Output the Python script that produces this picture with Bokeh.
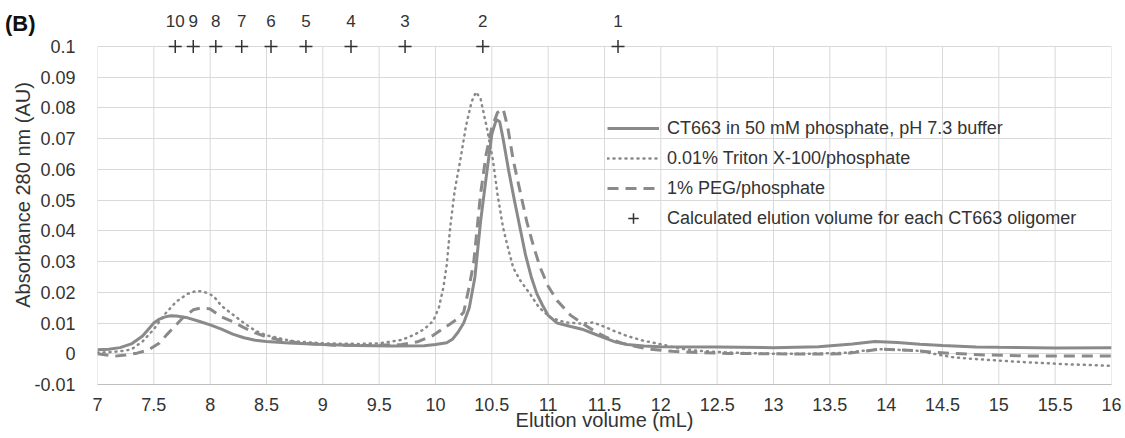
from bokeh.plotting import figure
from bokeh.models import FixedTicker, Legend, LegendItem, Range1d, LinearAxis
from bokeh.embed import file_html
from bokeh.resources import INLINE
from bokeh.core.properties import value

# ---------------- data ----------------
vol_buffer = [7.0, 7.1, 7.2, 7.3, 7.4, 7.5, 7.55, 7.6, 7.65, 7.7, 7.8, 7.9, 8.0, 8.1, 8.2, 8.3,
              8.4, 8.5, 8.7, 9.0, 9.3, 9.6, 9.9, 10.0, 10.1, 10.15, 10.2, 10.25, 10.3, 10.35,
              10.4, 10.45, 10.5, 10.54, 10.57, 10.6, 10.65, 10.7, 10.75, 10.8, 10.85, 10.9,
              10.95, 11.0, 11.08, 11.2, 11.3, 11.4, 11.5, 11.6, 11.7, 11.85, 12.0, 12.5, 13.0,
              13.4, 13.7, 13.9, 14.1, 14.3, 14.5, 14.8, 15.0, 15.5, 16.0]
abs_buffer = [0.0013, 0.0015, 0.0020, 0.0032, 0.0058, 0.0100, 0.0113, 0.0120, 0.0124, 0.0123,
              0.0117, 0.0106, 0.0094, 0.0080, 0.0064, 0.0052, 0.0044, 0.0040, 0.0035, 0.0030,
              0.0027, 0.0025, 0.0026, 0.0030, 0.0036, 0.0047, 0.0070, 0.0100, 0.0150, 0.0250,
              0.0430, 0.0575, 0.0715, 0.0762, 0.0755, 0.0700, 0.0595, 0.0500, 0.0410, 0.0320,
              0.0250, 0.0195, 0.0158, 0.0125, 0.0100, 0.0089, 0.0080, 0.0066, 0.0052, 0.0038,
              0.0030, 0.0025, 0.0023, 0.0022, 0.0020, 0.0023, 0.0032, 0.0040, 0.0037, 0.0031,
              0.0027, 0.0022, 0.0021, 0.0019, 0.0020]

vol_triton = [7.0, 7.1, 7.2, 7.3, 7.4, 7.5, 7.6, 7.7, 7.8, 7.88, 7.95, 8.03, 8.1, 8.2, 8.3, 8.4,
              8.5, 8.6, 8.7, 8.8, 9.0, 9.3, 9.5, 9.7, 9.8, 9.9, 9.98, 10.03, 10.07, 10.1, 10.13,
              10.17, 10.22, 10.27, 10.32, 10.36, 10.4, 10.455, 10.51, 10.55, 10.6, 10.65, 10.69,
              10.75, 10.84, 10.92, 11.02, 11.15, 11.3, 11.4, 11.5, 11.58, 11.7, 11.85, 12.0,
              12.15, 12.32, 12.6, 13.0, 13.3, 13.63, 13.8, 13.95, 14.1, 14.28, 14.45, 14.6, 14.9,
              15.26, 15.6, 16.0]
abs_triton = [0.0004, 0.0005, 0.0008, 0.0014, 0.0040, 0.0080, 0.0130, 0.0170, 0.0195, 0.0205,
              0.0201, 0.0188, 0.0156, 0.0128, 0.0100, 0.0075, 0.0060, 0.0052, 0.0043, 0.0039,
              0.0034, 0.0032, 0.0034, 0.0045, 0.0060, 0.0080, 0.0107, 0.0150, 0.0216, 0.0290,
              0.0410, 0.0530, 0.0630, 0.0740, 0.0820, 0.0852, 0.0830, 0.0737, 0.0630, 0.0520,
              0.0410, 0.0335, 0.0280, 0.0240, 0.0194, 0.0150, 0.0118, 0.0102, 0.0098, 0.0102,
              0.0088, 0.0075, 0.0058, 0.0042, 0.0031, 0.0018, 0.0010, 0.0004, 0.0000, 0.0000,
              0.0003, 0.0010, 0.0015, 0.0013, 0.0010, -0.0002, -0.0012, -0.0020, -0.0028,
              -0.0034, -0.0039]

vol_peg = [7.0, 7.08, 7.15, 7.25, 7.35, 7.45, 7.55, 7.62, 7.7, 7.76, 7.85, 7.93, 8.0, 8.1, 8.2,
           8.3, 8.4, 8.5, 8.65, 8.8, 9.1, 9.4, 9.7, 9.85, 9.98, 10.08, 10.13, 10.2, 10.25, 10.3,
           10.34, 10.4, 10.45, 10.5, 10.55, 10.6, 10.64, 10.69, 10.75, 10.81, 10.87, 10.93, 11.0,
           11.08, 11.2, 11.31, 11.42, 11.52, 11.65, 11.8, 11.9, 12.1, 12.32, 12.6, 13.0, 13.3,
           13.63, 13.8, 13.95, 14.1, 14.28, 14.45, 14.6, 14.9, 15.26, 16.0]
abs_peg = [0.0000, -0.0004, -0.0008, -0.0004, 0.0002, 0.0012, 0.0035, 0.0064, 0.0095, 0.0118,
           0.0143, 0.0150, 0.0146, 0.0120, 0.0105, 0.0085, 0.0068, 0.0055, 0.0042, 0.0035,
           0.0028, 0.0027, 0.0030, 0.0040, 0.0060, 0.0085, 0.0097, 0.0115, 0.0135, 0.0220,
           0.0300, 0.0520, 0.0650, 0.0735, 0.0785, 0.0797, 0.0740, 0.0630, 0.0530, 0.0430,
           0.0350, 0.0280, 0.0220, 0.0173, 0.0125, 0.0097, 0.0072, 0.0053, 0.0035, 0.0022,
           0.0015, 0.0008, 0.0004, 0.0001, 0.0000, -0.0001, 0.0000, 0.0008, 0.0015, 0.0013,
           0.0010, 0.0004, 0.0001, -0.0004, -0.0007, -0.0007]

oligomer_labels = ["10", "9", "8", "7", "6", "5", "4", "3", "2", "1"]
oligomer_vol = [7.69, 7.85, 8.05, 8.28, 8.54, 8.85, 9.25, 9.73, 10.42, 11.62]
oligomer_abs = [0.1] * 10

x_ticks = [7, 7.5, 8, 8.5, 9, 9.5, 10, 10.5, 11, 11.5, 12, 12.5, 13, 13.5, 14, 14.5, 15, 15.5, 16]
x_tick_labels = ["7", "7.5", "8", "8.5", "9", "9.5", "10", "10.5", "11", "11.5", "12", "12.5",
                 "13", "13.5", "14", "14.5", "15", "15.5", "16"]
y_ticks = [-0.01, 0, 0.01, 0.02, 0.03, 0.04, 0.05, 0.06, 0.07, 0.08, 0.09, 0.1]
y_tick_labels = ["-0.01", "0", "0.01", "0.02", "0.03", "0.04", "0.05", "0.06", "0.07", "0.08",
                 "0.09", "0.1"]

legend_labels = ["CT663 in 50 mM phosphate, pH 7.3 buffer",
                 "0.01% Triton X-100/phosphate",
                 "1% PEG/phosphate",
                 "Calculated elution volume for each CT663 oligomer"]
panel_tag = "(B)"

# ---------------- style ----------------
FONT = "Liberation Sans"
TXT = "#333333"
CURVE = "#8a8a8a"
GRID = "#d9d9d9"

p = figure(width=1125, height=438, output_backend="svg", toolbar_location=None,
           x_range=Range1d(7, 16), y_range=Range1d(-0.01, 0.11334),
           min_border_left=97, min_border_right=14, min_border_top=5, min_border_bottom=54)
p.outline_line_color = None
p.background_fill_color = "white"
p.border_fill_color = "white"

# grid: horizontal via ygrid, vertical as segments limited to the y tick extent
p.xgrid.visible = False
p.ygrid.ticker = FixedTicker(ticks=y_ticks)
p.ygrid.grid_line_color = GRID
p.ygrid.grid_line_width = 1
y_lo, y_hi = min(y_ticks), max(y_ticks)
p.segment(x0=x_ticks, y0=[y_lo] * len(x_ticks), x1=x_ticks, y1=[y_hi] * len(x_ticks),
          line_color=GRID, line_width=1, level="underlay")

# axes
xa = p.xaxis[0]
xa.ticker = FixedTicker(ticks=x_ticks)
xa.major_label_overrides = dict(zip(x_ticks, x_tick_labels))
xa.axis_label = "Elution volume (mL)"
ya = p.yaxis[0]
ya.ticker = FixedTicker(ticks=y_ticks)
ya.major_label_overrides = dict(zip(y_ticks, y_tick_labels))
ya.axis_label = "Absorbance 280 nm (AU)"
for ax in (xa, ya):
    ax.major_tick_line_color = None
    ax.minor_tick_line_color = None
    ax.major_label_text_font = FONT
    ax.major_label_text_font_size = "18px"
    ax.major_label_text_color = TXT
    ax.axis_label_text_font = FONT
    ax.axis_label_text_font_size = "20px"
    ax.axis_label_text_font_style = "normal"
    ax.axis_label_text_color = TXT
xa.axis_line_color = "#bfbfbf"
ya.axis_line_color = None
xa.major_label_standoff = 7
xa.axis_label_standoff = -5
ya.major_label_standoff = 16
ya.axis_label_standoff = -3

# panel tag "(B)" as the single tick label of an outer left axis
tag_y = 0.1075
tag_axis = LinearAxis(ticker=FixedTicker(ticks=[tag_y]),
                      major_label_overrides={tag_y: panel_tag},
                      axis_line_color=None, major_tick_line_color=None,
                      minor_tick_line_color=None, major_label_standoff=-32,
                      major_label_text_font=FONT, major_label_text_font_size="22px",
                      major_label_text_font_style="bold", major_label_text_color="#111111")
p.add_layout(tag_axis, "left")

# curves
r_buf = p.line(vol_buffer, abs_buffer, line_color=CURVE, line_width=3)
r_tri = p.line(vol_triton, abs_triton, line_color=CURVE, line_width=2.5,
               line_dash="1 5", line_cap="round")
r_peg = p.line(vol_peg, abs_peg, line_color=CURVE, line_width=3, line_dash="11 7")

# oligomer markers
r_olig = p.scatter(oligomer_vol, oligomer_abs, marker="cross", size=13,
                   line_color=TXT, line_width=1.5)
p.text(x=oligomer_vol, y=oligomer_abs, text=oligomer_labels, text_font=value(FONT),
       text_font_size="17px", text_color=TXT, text_align="center",
       text_baseline="middle", y_offset=-25)

# legend
legend = Legend(items=[LegendItem(label=legend_labels[0], renderers=[r_buf]),
                       LegendItem(label=legend_labels[1], renderers=[r_tri]),
                       LegendItem(label=legend_labels[2], renderers=[r_peg]),
                       LegendItem(label=legend_labels[3], renderers=[r_olig])],
                location=(510, 153), orientation="vertical")
legend.label_text_font = FONT
legend.label_text_font_size = "18px"
legend.label_text_color = TXT
legend.glyph_width = 52
legend.glyph_height = 26
legend.label_height = 26
legend.spacing = 4
legend.padding = 0
legend.margin = 0
legend.label_standoff = 8
legend.border_line_color = None
legend.background_fill_alpha = 0
p.add_layout(legend)

open("out.html", "w").write(file_html(p, INLINE))
